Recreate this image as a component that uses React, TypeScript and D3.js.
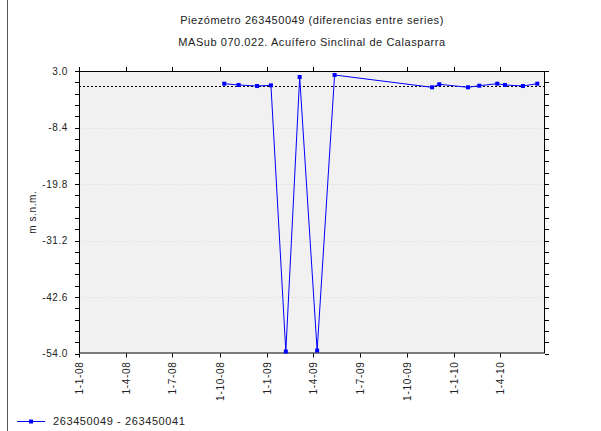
import React from 'react';
import * as d3 from 'd3';

const dates = ['2008-10-10', '2008-11-07', '2008-12-13', '2009-01-09', '2009-02-07', '2009-03-06', '2009-04-09', '2009-05-13', '2009-11-19', '2009-12-03', '2010-01-28', '2010-02-19', '2010-03-26', '2010-04-10', '2010-05-15', '2010-06-12'];
const values = [0.44, 0.18, -0.03, 0.11, -53.6, 1.79, -53.4, 2.19, -0.29, 0.32, -0.29, 0.03, 0.44, 0.18, -0.03, 0.44];
const yTicks = [3.0, -8.4, -19.8, -31.2, -42.6, -54.0];
const xTickDates = ['2008-01-01', '2008-04-01', '2008-07-01', '2008-10-01', '2009-01-01', '2009-04-01', '2009-07-01', '2009-10-01', '2010-01-01', '2010-04-01'];
const xTickLabels = ['1-1-08', '1-4-08', '1-7-08', '1-10-08', '1-1-09', '1-4-09', '1-7-09', '1-10-09', '1-1-10', '1-4-10'];
const title1 = 'Piezómetro 263450049 (diferencias entre series)';
const title2 = 'MASub 070.022. Acuífero Sinclinal de Calasparra';
const yLabel = 'm s.n.m.';
const legendLabel = '263450049 - 263450041';

const parse = d3.utcParse('%Y-%m-%d');

export default function App() {
  const L = 79, R = 545, T = 71, B = 353.5;
  const x = d3.scaleUtc().domain([parse('2008-01-01')!, parse('2010-06-27')!]).range([L, R]);
  const y = d3.scaleLinear().domain([-54, 3]).range([B, T]);
  const minor = d3.range(0, 26).map(i => -54 + i * 2.28);
  const pts = dates.map((d, i) => [x(parse(d)!), y(values[i])] as [number, number]);
  const line = d3.line()(pts) || '';
  const font = 'Liberation Sans, Arial, sans-serif';
  const txt = '#222';
  return (
    <svg width={601} height={431} style={{ position: 'absolute', left: 0, top: 0 }} fontFamily={font}>
      <rect x={0} y={0} width={601} height={431} fill="#fff" />
      <line x1={7.5} x2={7.5} y1={0} y2={431} stroke="#555" strokeWidth={1} />
      <text x={(L + R) / 2} y={24} textAnchor="middle" fontSize={11} letterSpacing={0.55} fill={txt}>{title1}</text>
      <text x={(L + R) / 2} y={46} textAnchor="middle" fontSize={11} letterSpacing={0.55} fill={txt}>{title2}</text>
      <rect x={L} y={T} width={R - L} height={B - T} fill="#f1f1f1" />
      {yTicks.slice(1, -1).map(v => (
        <line key={'g' + v} x1={L} x2={R} y1={Math.round(y(v)) + 0.5} y2={Math.round(y(v)) + 0.5} stroke="#d8d8d8" strokeDasharray="1,2" />
      ))}
      <line x1={L} x2={R} y1={Math.round(y(0)) + 0.5} y2={Math.round(y(0)) + 0.5} stroke="#000" strokeDasharray="2,2" />
      <rect x={L + 0.5} y={T + 0.5} width={R - L - 1} height={B - T - 1} fill="none" stroke="#000" strokeWidth={1} />
      {minor.map((v, i) => {
        const yy = Math.round(y(v)) + 0.5;
        return (
          <g key={'m' + i}>
            <line x1={L - 4} x2={L} y1={yy} y2={yy} stroke="#000" />
            <line x1={R} x2={R + 4} y1={yy} y2={yy} stroke="#000" />
          </g>
        );
      })}
      {yTicks.map(v => (
        <text key={'yl' + v} x={68} y={y(v) + 3.5} textAnchor="end" fontSize={10} letterSpacing={0.6} fill={txt}>{v.toFixed(1)}</text>
      ))}
      {xTickDates.map((d, i) => {
        const xx = Math.round(x(parse(d)!)) + 0.5;
        return (
          <g key={'x' + i}>
            <line x1={xx} x2={xx} y1={B} y2={B + 4} stroke="#000" />
            <line x1={xx} x2={xx} y1={T - 4} y2={T} stroke="#000" />
            <text transform={`translate(${xx + 3.5},${B + 8}) rotate(-90)`} textAnchor="end" fontSize={10} letterSpacing={0.7} fill={txt}>{xTickLabels[i]}</text>
          </g>
        );
      })}
      <text transform={`translate(36,${(T + B) / 2}) rotate(-90)`} textAnchor="middle" fontSize={10} letterSpacing={0.6} fill={txt}>{yLabel}</text>
      <path d={line} fill="none" stroke="#0000ff" strokeWidth={1} />
      {pts.map((p, i) => (
        <rect key={'p' + i} x={p[0] - 2} y={p[1] - 2} width={4} height={4} fill="#0000ff" />
      ))}
      <line x1={17} x2={45} y1={421.5} y2={421.5} stroke="#0000ff" />
      <rect x={29} y={419.5} width={4} height={4} fill="#0000ff" />
      <text x={53} y={425} fontSize={11} letterSpacing={0.6} fill={txt}>{legendLabel}</text>
    </svg>
  );
}
